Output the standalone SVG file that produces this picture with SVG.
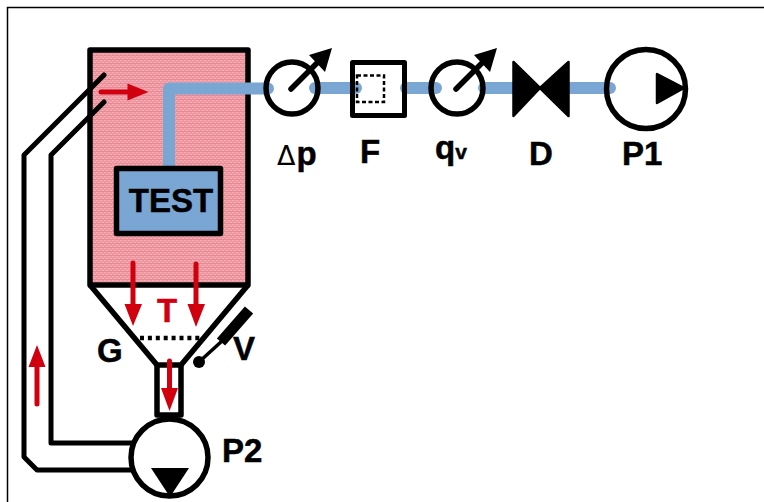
<svg xmlns="http://www.w3.org/2000/svg" width="764" height="502" viewBox="0 0 764 502">
<defs>
<pattern id="tex" width="4" height="4" patternUnits="userSpaceOnUse"><rect width="4" height="4" fill="#ee98a1"/><rect width="2" height="1" fill="#f4b0b6"/><rect x="2" y="2" width="2" height="1" fill="#f4b0b6"/><rect y="3" width="4" height="1" fill="#e88a95"/></pattern>
</defs>
<style>
.k{fill:none;stroke:#000;stroke-width:5.500;stroke-linejoin:round}
.w{fill:#fff;stroke:#000;stroke-width:5.500}
.b{fill:none;stroke:#7aa6d4;stroke-width:12;stroke-linecap:round;stroke-linejoin:round}
.r{fill:none;stroke:#d0000f;stroke-width:5;stroke-linecap:round}
.rh{fill:#d0000f}
.bk{fill:#000;stroke:#000;stroke-width:2.500;stroke-linejoin:round}
text{font-family:"Liberation Sans",Arial,sans-serif;font-weight:700;fill:#000;font-size:33px;stroke:#000;stroke-width:.5}
</style>
<rect width="764" height="502" fill="#fff"/>
<path d="M7.500 502V7.500H764" fill="none" stroke="#000" stroke-width="1.500"/>
<g id="chamber">
<rect x="90" y="50" width="158" height="235" fill="url(#tex)" stroke="#000" stroke-width="5.500" stroke-linejoin="round"/>
</g>
<g id="hopper">
<path class="k" d="M90 285L157 365H181L248 285"/>
<path class="k" d="M157 365V415H181V365"/>
</g>
<g id="connectors">
<path class="b" d="M169 170V88.500H268"/>
<path class="b" d="M315 88H356"/>
<path class="b" d="M406 88H436"/>
<path class="b" d="M484 88H515M568 88H610"/>
<path d="M104 75L24 155V457L37 470H132M104 102L51 155V443H132" fill="none" stroke="#000" stroke-width="5" stroke-linecap="round" stroke-linejoin="round"/>
</g>
<g id="red-arrows">
<path class="r" d="M101 92H130M133 263V305M196 264V305M169.500 361V390M37 404V365"/>
<path class="rh" d="M127.500 83.500L148.500 92L127.500 100.500ZM124.500 304H142L133 326ZM187.500 304H205L196 327ZM161 388H178L169.500 411ZM28.500 367H45.500L37 345Z"/>
</g>
<g id="TEST">
<rect x="116.500" y="168.500" width="104" height="65" fill="#7aa6d4" stroke="#000" stroke-width="5.500" stroke-linejoin="round"/>
<text x="171" y="212" text-anchor="middle">TEST</text>
</g>
<g id="dp">
<circle class="k" cx="292" cy="88" r="26"/>
<path d="M291 89L319 61" stroke="#000" stroke-width="5.500" stroke-linecap="round"/>
<path d="M332 48L325 72L309 55Z" fill="#000"/>
<text x="277" y="165" style="font-weight:400;font-family:'DejaVu Sans',sans-serif;stroke-width:0;font-size:27px">Δ</text>
<text x="296.500" y="165">p</text>
</g>
<g id="F">
<rect x="352.500" y="62.500" width="52" height="53" fill="none" stroke="#000" stroke-width="5" stroke-linejoin="round"/>
<rect x="357" y="75.500" width="27" height="26.500" fill="none" stroke="#000" stroke-width="2.500" stroke-dasharray="4 2.500"/>
<text x="360" y="163">F</text>
</g>
<g id="qv">
<circle class="k" cx="457" cy="88" r="26"/>
<path d="M456 89L484 61" stroke="#000" stroke-width="5.500" stroke-linecap="round"/>
<path d="M497 48L490 72L474 55Z" fill="#000"/>
<text x="435" y="159">q<tspan font-size="21">v</tspan></text>
</g>
<g id="D">
<path class="bk" d="M513.500 62V116L540 88L568.500 116V62L540 88Z"/>
<text x="529" y="165">D</text>
</g>
<g id="P1">
<circle class="k" cx="646" cy="89" r="39.500"/>
<path class="bk" d="M657 74V103L684 88Z"/>
<text x="622" y="165">P1</text>
</g>
<g id="P2">
<circle class="w" cx="169.500" cy="457.500" r="38.500"/>
<path d="M151 468H189L170 497Z" fill="#000"/>
<text x="222" y="462">P2</text>
</g>
<g id="G"><path d="M140 338H205" stroke="#000" stroke-width="4.500" stroke-dasharray="4 3.900" fill="none"/><text x="97" y="362">G</text></g>
<g id="T"><text x="157" y="322" style="fill:#d0000f;stroke:#d0000f">T</text></g>
<g id="V">
<path d="M221 342L249 310" stroke="#000" stroke-width="11"/>
<path d="M199 362L222 341" stroke="#000" stroke-width="3.500"/>
<circle cx="199" cy="362" r="6"/>
<text x="233" y="360">V</text>
</g>
</svg>
